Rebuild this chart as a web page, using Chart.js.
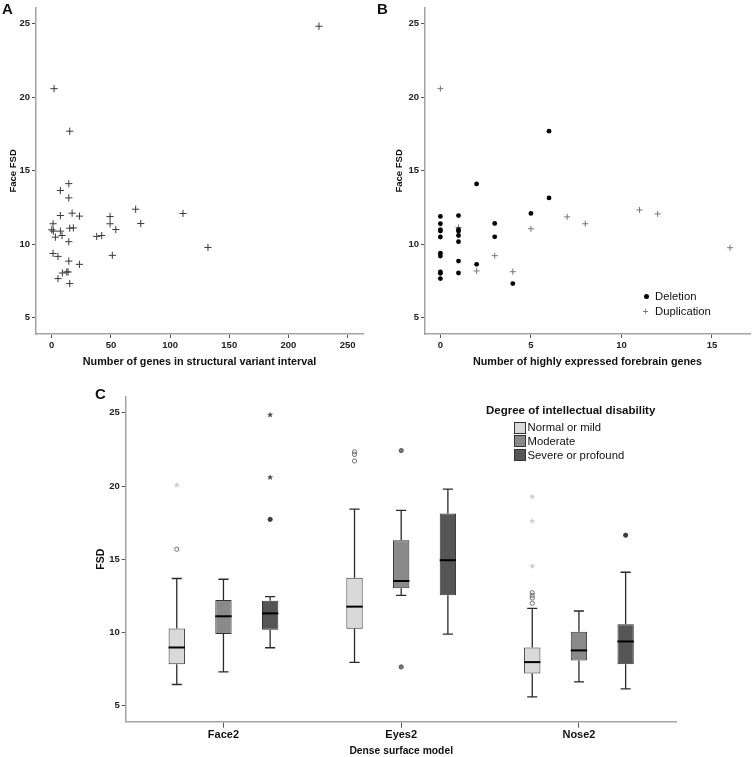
<!DOCTYPE html>
<html>
<head>
<meta charset="utf-8">
<script src="https://cdn.jsdelivr.net/npm/chart.js@4.4.1/dist/chart.umd.min.js"></script>
<style>
  html, body { margin:0; padding:0; background:#fff; }
  body { width:755px; height:757px; position:relative; overflow:hidden; font-family:'Liberation Sans', Arial, sans-serif; }
  canvas { position:absolute; }
  .lbl { position:absolute; font-weight:bold; font-size:15px; color:#111; line-height:15px; }
  .leg { position:absolute; color:#111; font-size:11.3px; line-height:13px; white-space:nowrap; }
  .sw { position:absolute; width:10px; height:10px; border:1px solid #333; }
</style>
</head>
<body>
<canvas id="cA" width="375" height="375" style="left:0;top:0;width:375px;height:375px"></canvas>
<canvas id="cB" width="380" height="375" style="left:375px;top:0;width:380px;height:375px"></canvas>
<canvas id="cC" width="755" height="377" style="left:0;top:380px;width:755px;height:377px"></canvas>

<div class="lbl" style="left:2px;top:1px">A</div>
<div class="lbl" style="left:377px;top:1px">B</div>
<div class="lbl" style="left:95px;top:386px">C</div>

<!-- legend B -->
<div style="position:absolute;left:644px;top:294px;width:5px;height:5px;border-radius:50%;background:#000"></div>
<div class="leg" style="left:655px;top:290px">Deletion</div>
<div class="leg" style="left:642.5px;top:304.5px;color:#777;font-size:10px">+</div>
<div class="leg" style="left:655px;top:305px">Duplication</div>

<!-- legend C -->
<div class="leg" style="left:486px;top:404px;font-weight:bold;font-size:11.5px">Degree of intellectual disability</div>
<div class="sw" style="left:514px;top:421.5px;background:#d9d9d9"></div>
<div class="leg" style="left:527.5px;top:421px">Normal or mild</div>
<div class="sw" style="left:514px;top:435px;background:#8a8a8a"></div>
<div class="leg" style="left:527.5px;top:434.5px">Moderate</div>
<div class="sw" style="left:514px;top:449px;background:#555555"></div>
<div class="leg" style="left:527.5px;top:448.5px">Severe or profound</div>

<script>
// ---------------- DATA ----------------
// Panel A: number of genes vs Face FSD
const A_GENES = [225.8, 2.0, 15.2, 14.4, 7.3, 14.4, 7.3, 17.2, 23.4, 1.1, 0, 1.4, 3.1, 7.3, 8.7, 15.2, 18.3, 14.4, 1.1, 5.3, 14.4, 23.4, 9.0, 12.7, 13.8, 5.3, 15.2, 38.0, 42.2, 49.3, 49.3, 54.1, 51.2, 70.9, 75.2, 110.9, 132.0];
const A_FSD   = [24.84, 20.59, 17.70, 14.13, 13.66, 13.16, 11.96, 12.12, 11.92, 11.40, 10.99, 10.90, 10.49, 10.90, 10.60, 11.10, 11.12, 10.18, 9.38, 9.18, 8.86, 8.64, 8.05, 8.12, 8.12, 7.67, 7.33, 10.54, 10.60, 11.89, 11.40, 11.01, 9.25, 12.39, 11.42, 12.10, 9.79];
const A_X_TICKS = [0, 50, 100, 150, 200, 250];

// Panel B: highly expressed forebrain genes vs Face FSD
const DEL_GENES = [0,0,0,0,0,0,0,0,0,0, 1,1,1,1,1,1,1, 2,2, 3,3, 4, 5, 6,6];
const DEL_FSD   = [11.9, 11.4, 11.0, 10.9, 10.5, 9.4, 9.2, 8.12, 8.03, 7.67, 11.96, 11.0, 10.9, 10.6, 10.18, 8.86, 8.05, 14.11, 8.64, 11.42, 10.51, 7.33, 12.10, 17.70, 13.16];
const DUP_GENES = [0, 1, 2, 3, 4, 5, 7, 8, 11, 12, 16];
const DUP_FSD   = [20.59, 11.15, 8.19, 9.23, 8.14, 11.06, 11.87, 11.40, 12.34, 12.07, 9.77];
const B_X_TICKS = [0, 5, 10, 15];

const FSD_TICKS = [5, 10, 15, 20, 25];

// Panel C: box plots (Face2, Eyes2, Nose2)
const MODELS = ['Face2', 'Eyes2', 'Nose2'];
const GROUPS = ['Normal or mild', 'Moderate', 'Severe or profound'];
const NORMAL_LOW  = [6.44, 7.95, 5.59];
const NORMAL_Q1   = [7.83, 10.25, 7.19];
const NORMAL_MED  = [8.97, 11.76, 7.97];
const NORMAL_Q3   = [10.27, 13.74, 8.97];
const NORMAL_HIGH = [13.68, 18.42, 11.64];
const NORMAL_OUT  = [[15.68], [22.33, 22.15, 21.71], [12.71, 12.53, 12.35, 11.99]];
const NORMAL_EXT  = [[20.05], [], [19.27, 17.60, 14.52]];

const MODERATE_LOW  = [7.31, 12.53, 6.62];
const MODERATE_Q1   = [9.89, 13.01, 8.08];
const MODERATE_MED  = [11.10, 13.51, 8.77];
const MODERATE_Q3   = [12.21, 16.30, 10.04];
const MODERATE_HIGH = [13.63, 18.33, 11.46];
const MODERATE_OUT  = [[], [22.42, 7.64], []];
const MODERATE_EXT  = [[], [], []];

const SEVERE_LOW  = [8.95, 9.88, 6.14];
const SEVERE_Q1   = [10.18, 12.53, 7.83];
const SEVERE_MED  = [11.30, 14.93, 9.38];
const SEVERE_Q3   = [12.17, 18.12, 10.55];
const SEVERE_HIGH = [12.44, 19.79, 14.11];
const SEVERE_OUT  = [[17.72], [], [16.64]];
const SEVERE_EXT  = [[24.86, 20.59], [], []];

// ---------------- STYLE ----------------
const SANS = "'Liberation Sans', Arial, sans-serif";
const NARROW = "'Liberation Sans Narrow', 'Arial Narrow', 'Liberation Sans', Arial, sans-serif";
const TICK_FONT = { family: NARROW, size: 9.5, weight: 'bold' };
const AXIS_BORDER = { display: true, color: '#a3a3a3', width: 1.5 };
const GRID = { drawOnChartArea: false, drawTicks: true, tickLength: 4, color: '#555', lineWidth: 1 };

function fixedTicks(vals) { return (s) => { s.ticks = vals.map(v => ({ value: v })); }; }

function fsdAxis(width, titleText, titlePad, titleSize) {
  return {
    type: 'linear', min: 3.9, max: 26.1,
    afterBuildTicks: fixedTicks(FSD_TICKS),
    afterFit: (s) => { s.width = width; },
    grid: GRID, border: AXIS_BORDER,
    ticks: { font: TICK_FONT, color: '#222', padding: 2 },
    title: { display: true, text: titleText, color: '#111', font: { family: SANS, size: titleSize, weight: 'bold' }, padding: { top: titlePad, bottom: 0 } }
  };
}

Chart.defaults.animation = false;
Chart.defaults.plugins.legend.display = false;
Chart.defaults.plugins.tooltip.enabled = false;

// ---------------- PANEL A ----------------
new Chart(document.getElementById('cA'), {
  type: 'scatter',
  data: {
    datasets: [{
      data: A_GENES.map((g, i) => ({ x: g, y: A_FSD[i] })),
      pointStyle: 'cross', radius: 3.6, borderColor: '#3a3a3a', borderWidth: 1
    }]
  },
  options: {
    responsive: false,
    layout: { padding: { left: 0, right: 12, top: 7, bottom: 0 } },
    scales: {
      x: {
        type: 'linear', min: -13.3, max: 263,
        afterBuildTicks: fixedTicks(A_X_TICKS),
        afterFit: (s) => { s.height = 41; },
        grid: GRID, border: AXIS_BORDER,
        ticks: { font: TICK_FONT, color: '#222', padding: 2, maxRotation: 0, autoSkip: false },
        title: { display: true, text: 'Number of genes in structural variant interval', color: '#111', font: { family: SANS, size: 10.8, weight: 'bold' }, padding: { top: 0, bottom: 6 } }
      },
      y: fsdAxis(36, 'Face FSD', 8, 9.5)
    }
  }
});

// ---------------- PANEL B ----------------
new Chart(document.getElementById('cB'), {
  type: 'scatter',
  data: {
    datasets: [
      { label: 'Deletion', data: DEL_GENES.map((g, i) => ({ x: g, y: DEL_FSD[i] })),
        pointStyle: 'circle', radius: 2.4, backgroundColor: '#000', borderColor: '#000', borderWidth: 0 },
      { label: 'Duplication', data: DUP_GENES.map((g, i) => ({ x: g, y: DUP_FSD[i] })),
        pointStyle: 'cross', radius: 3, borderColor: '#777', borderWidth: 1 }
    ]
  },
  options: {
    responsive: false,
    layout: { padding: { left: 0, right: 0, top: 7, bottom: 0 } },
    scales: {
      x: {
        type: 'linear', min: -0.85, max: 17.1,
        afterBuildTicks: fixedTicks(B_X_TICKS),
        afterFit: (s) => { s.height = 41; },
        grid: GRID, border: AXIS_BORDER,
        ticks: { font: TICK_FONT, color: '#222', padding: 2, maxRotation: 0, autoSkip: false },
        title: { display: true, text: 'Number of highly expressed forebrain genes', color: '#111', font: { family: SANS, size: 10.8, weight: 'bold' }, padding: { top: 0, bottom: 6 } }
      },
      y: fsdAxis(50, 'Face FSD', 19, 9.5)
    }
  }
});

// ---------------- PANEL C ----------------
const STATS = [
  { low: NORMAL_LOW, med: NORMAL_MED, high: NORMAL_HIGH, out: NORMAL_OUT, ext: NORMAL_EXT },
  { low: MODERATE_LOW, med: MODERATE_MED, high: MODERATE_HIGH, out: MODERATE_OUT, ext: MODERATE_EXT },
  { low: SEVERE_LOW, med: SEVERE_MED, high: SEVERE_HIGH, out: SEVERE_OUT, ext: SEVERE_EXT }
];
const Q1S = [NORMAL_Q1, MODERATE_Q1, SEVERE_Q1];
const Q3S = [NORMAL_Q3, MODERATE_Q3, SEVERE_Q3];
const BOX_FILL = ['#d9d9d9', '#8a8a8a', '#555555'];
const OUT_STYLE = [
  { fill: null, stroke: '#6e6e6e', star: '#cfcfcf' },
  { fill: '#7a7a7a', stroke: '#555', star: '#7a7a7a' },
  { fill: '#3c3c3c', stroke: '#3c3c3c', star: '#505050' }
];

function drawStar(ctx, x, y, r, color) {
  ctx.beginPath();
  for (let k = 0; k < 10; k++) {
    const rr = k % 2 ? r * 0.45 : r;
    const a = -Math.PI / 2 + k * Math.PI / 5;
    ctx.lineTo(x + rr * Math.cos(a), y + rr * Math.sin(a));
  }
  ctx.closePath();
  ctx.fillStyle = color;
  ctx.fill();
}

const boxPlugin = {
  id: 'boxWhiskers',
  afterDatasetsDraw(chart) {
    const ctx = chart.ctx, ys = chart.scales.y;
    ctx.save();
    STATS.forEach((st, i) => {
      const meta = chart.getDatasetMeta(i);
      meta.data.forEach((bar, j) => {
        const cx = bar.x, half = bar.width / 2, cap = half * 0.62;
        const yQ1 = ys.getPixelForValue(Q1S[i][j]);
        const yQ3 = ys.getPixelForValue(Q3S[i][j]);
        const yLo = ys.getPixelForValue(st.low[j]);
        const yHi = ys.getPixelForValue(st.high[j]);
        const yMed = ys.getPixelForValue(st.med[j]);
        ctx.strokeStyle = '#2a2a2a';
        ctx.lineWidth = 1.3;
        ctx.beginPath();
        ctx.moveTo(cx, yQ3); ctx.lineTo(cx, yHi);
        ctx.moveTo(cx - cap, yHi); ctx.lineTo(cx + cap, yHi);
        ctx.moveTo(cx, yQ1); ctx.lineTo(cx, yLo);
        ctx.moveTo(cx - cap, yLo); ctx.lineTo(cx + cap, yLo);
        ctx.stroke();
        ctx.strokeStyle = '#000';
        ctx.lineWidth = 2;
        ctx.beginPath();
        ctx.moveTo(cx - half, yMed); ctx.lineTo(cx + half, yMed);
        ctx.stroke();
        const os = OUT_STYLE[i];
        st.out[j].forEach(v => {
          const py = ys.getPixelForValue(v);
          ctx.beginPath();
          ctx.arc(cx, py, 2.1, 0, Math.PI * 2);
          if (os.fill) { ctx.fillStyle = os.fill; ctx.fill(); }
          ctx.strokeStyle = os.stroke; ctx.lineWidth = 1; ctx.stroke();
        });
        st.ext[j].forEach(v => {
          drawStar(ctx, cx, ys.getPixelForValue(v), 3.2, os.star);
        });
      });
    });
    ctx.restore();
  }
};

new Chart(document.getElementById('cC'), {
  type: 'bar',
  data: {
    datasets: GROUPS.map((g, i) => ({
      label: g,
      data: MODELS.map((m, j) => ({ x: j, y: [Q1S[i][j], Q3S[i][j]] })),
      backgroundColor: BOX_FILL[i],
      borderColor: '#333',
      borderWidth: 1,
      borderSkipped: false,
      categoryPercentage: 0.788,
      barPercentage: 0.35
    }))
  },
  options: {
    responsive: false,
    layout: { padding: { left: 0, right: 78.3, top: 16.7, bottom: 0 } },
    scales: {
      x: {
        type: 'linear', min: -0.55, max: 2.55, offset: false,
        afterBuildTicks: fixedTicks(MODELS.map((m, j) => j)),
        afterFit: (s) => { s.height = 35.3; },
        grid: { offset: false, drawOnChartArea: false, drawTicks: true, tickLength: 6, color: '#555', lineWidth: 1 },
        border: AXIS_BORDER,
        ticks: { font: { family: SANS, size: 11, weight: 'bold' }, color: '#111', padding: 1, maxRotation: 0, autoSkip: false,
                 callback: (v) => MODELS[v] },
        title: { display: true, text: 'Dense surface model', color: '#111', font: { family: SANS, size: 10.3, weight: 'bold' }, padding: { top: 0, bottom: 0 } }
      },
      y: fsdAxis(125.7, 'FSD', 95, 10.5)
    }
  },
  plugins: [boxPlugin]
});
</script>
</body>
</html>
